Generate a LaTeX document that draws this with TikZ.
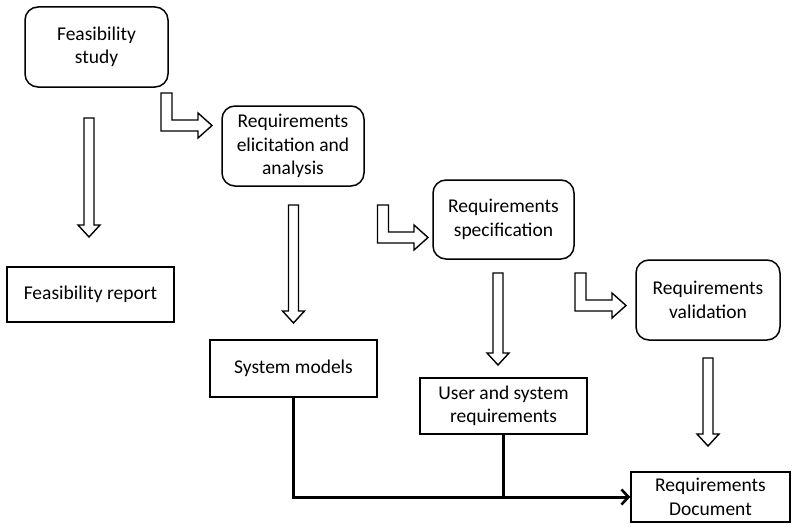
\documentclass[tikz,border=0pt]{standalone}
\usepackage{fontspec}
\setmainfont{Carlito}
\usetikzlibrary{arrows.meta,calc}
\tikzset{
  rbox/.style={draw, line width=1.5pt, rounded corners=13pt, align=center, inner sep=0pt},
  sbox/.style={draw, line width=1.5pt, align=center, inner sep=0pt},
  blockarrow/.style={draw, fill=white, line width=1.4pt, line join=miter},
  flow/.style={line width=3pt, -{Straight Barb[length=7pt,width=15pt,line width=2.6pt]}},
  plainflow/.style={line width=3pt}
}
\newcommand{\dnarrow}[3]{% xc, ytop, ybot
  \path[blockarrow] (#1-5,#2) -- (#1+5,#2) -- (#1+5,#3-12) -- (#1+11,#3-12) -- (#1,#3)
    -- (#1-11,#3-12) -- (#1-5,#3-12) -- cycle;}
\newcommand{\bentarrow}[4]{% x0, ytop, ybar, xtip
  \path[blockarrow] (#1,#2) -- (#1+11,#2) -- (#1+11,#3) -- (#4-14,#3) -- (#4-14,#3-7)
    -- (#4,#3+5.5) -- (#4-14,#3+18) -- (#4-14,#3+11) -- (#1,#3+11) -- cycle;}
\begin{document}
\begin{tikzpicture}[x=1pt,y=-1pt,font=\fontsize{19.5}{23.5}\selectfont]
\useasboundingbox[fill=white] (0,0) rectangle (792,527);

\node[rbox, minimum width=143pt, minimum height=80pt] (fs) at (96.5,47) {Feasibility\\study};
\node[sbox, minimum width=167pt, minimum height=55pt] (fr) at (90.5,294.5) {Feasibility report};
\node[rbox, minimum width=142pt, minimum height=80pt] (rea) at (293,146) {Requirements\\elicitation and\\analysis};
\node[sbox, minimum width=167pt, minimum height=57pt] (sm) at (293.5,368.5) {System models};
\node[rbox, minimum width=141pt, minimum height=79pt] (rs) at (503.5,219.5) {Requirements\\specification};
\node[sbox, minimum width=167pt, minimum height=56pt] (usr) at (503.5,406) {User and system\\requirements};
\node[rbox, minimum width=144pt, minimum height=80pt] (rv) at (708,300) {Requirements\\validation};
\node[sbox, minimum width=159pt, minimum height=50pt] (rd) at (710.5,497) {Requirements\\Document};

% hollow block arrows
\dnarrow{89}{118}{237}
\dnarrow{293.5}{205}{323}
\dnarrow{498}{273}{365}
\dnarrow{708}{358}{446}
\bentarrow{161}{93}{120}{212}
\bentarrow{377.5}{205}{232}{428}
\bentarrow{575}{273}{300}{626}

% output connectors
\coordinate (j) at (usr.south |- rd.west);
\draw[flow] (sm.south) |- (rd.west);
\draw[plainflow] (usr.south) -- (j);
\end{tikzpicture}
\end{document}
